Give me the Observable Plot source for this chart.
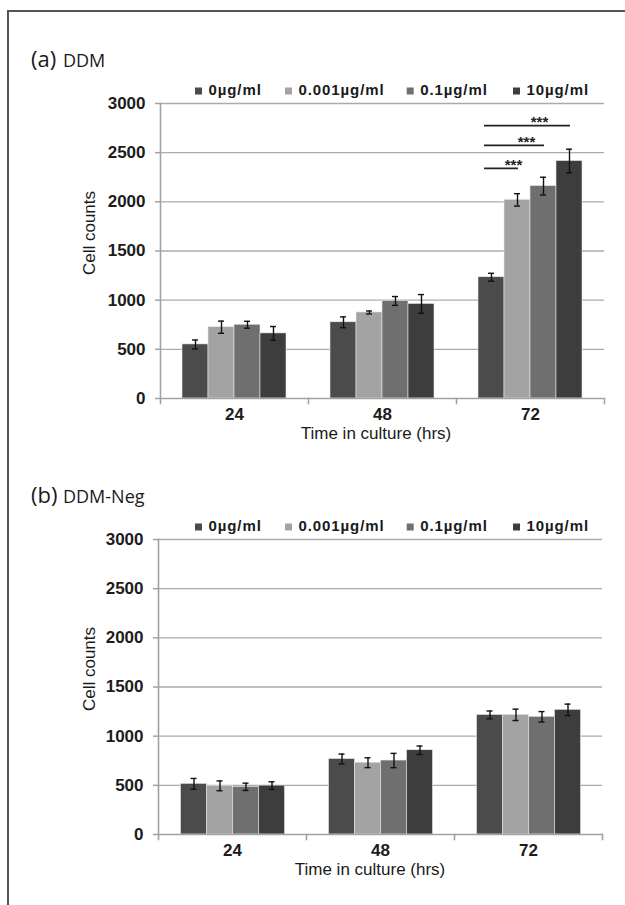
<!DOCTYPE html>
<html><head><meta charset="utf-8">
<script src="https://cdn.jsdelivr.net/npm/d3@7"></script>
<script src="https://cdn.jsdelivr.net/npm/@observablehq/plot@0.6"></script>
<style>
html,body{margin:0;padding:0;background:#fff;}
#root{position:relative;width:625px;height:905px;overflow:hidden;background:#fff;font-family:"Liberation Sans",Arial,sans-serif;}
.panel{position:absolute;left:0;}
#overlay{position:absolute;left:0;top:0;}
.bline{position:absolute;background:#555;}
</style></head><body><div id="root"></div>
<script>
// ---- data ----
const times = ["24", "48", "72"];
const concs = ["0µg/ml", "0.001µg/ml", "0.1µg/ml", "10µg/ml"];
const barColors = ["#4b4b4b", "#a3a3a3", "#6f6f6f", "#3d3d3d"];
const yTicks = [0, 500, 1000, 1500, 2000, 2500, 3000];

// (a) DDM: mean cell counts per time (24, 48, 72 h), one value per concentration
const ddm24 = [550, 725, 750, 662];
const ddm48 = [775, 875, 992, 962];
const ddm72 = [1233, 2020, 2160, 2415];
const ddmErr24 = [45, 62, 35, 70];
const ddmErr48 = [55, 15, 45, 95];
const ddmErr72 = [40, 63, 90, 120];

// significance brackets in (a), at 72 h
const sigTime = ["72", "72", "72"];
const sigFrom = ["0µg/ml", "0µg/ml", "0µg/ml"];
const sigTo = ["10µg/ml", "0.1µg/ml", "0.001µg/ml"];
const sigY = [2775, 2575, 2340];
const sigLabel = ["***", "***", "***"];

// (b) DDM-Neg
const neg24 = [515, 495, 485, 497];
const neg48 = [768, 730, 752, 857];
const neg72 = [1216, 1217, 1197, 1268];
const negErr24 = [55, 50, 37, 39];
const negErr48 = [50, 50, 73, 43];
const negErr72 = [40, 58, 53, 58];

// ---- build ----
const FONT = '"Liberation Sans", Arial, sans-serif';
const root = document.getElementById("root");

function makePanel({top, ml, mr, means, errs, sig}) {
  const rows = times.flatMap((t, i) => concs.map((c, j) => ({time: t, conc: c, mean: means[i][j], err: errs[i][j]})));
  const H = 325, MT = 8, MB = 22;
  const innerH = H - MT - MB;
  const axisColor = "#a2a2a2";
  const marks = [
    Plot.ruleY(yTicks.slice(1), {stroke: "#ababab", strokeWidth: 1.3}),
    Plot.barY(rows, {fx: "time", x: "conc", y: "mean", fill: "conc", stroke: "#e8e8e8", strokeWidth: 0.6}),
    Plot.ruleY([0], {stroke: axisColor, strokeWidth: 1.6}),
    Plot.frame({anchor: "left", facet: "super", stroke: axisColor, strokeWidth: 1.6, insetBottom: -5}),
    Plot.frame({anchor: "right", stroke: axisColor, strokeWidth: 1.6, insetTop: innerH, insetBottom: -5}),
    Plot.ruleX(rows, {fx: "time", x: "conc", y1: d => d.mean - d.err, y2: d => d.mean + d.err, stroke: "#111", strokeWidth: 1.4}),
    Plot.tickY(rows, {fx: "time", x: "conc", y: d => d.mean - d.err, insetLeft: 10, insetRight: 10, stroke: "#111", strokeWidth: 1.4}),
    Plot.tickY(rows, {fx: "time", x: "conc", y: d => d.mean + d.err, insetLeft: 10, insetRight: 10, stroke: "#111", strokeWidth: 1.4}),
    Plot.axisY(yTicks, {tickSize: 5, tickPadding: 10, tickFormat: d => String(d), fontSize: 17, fontWeight: "bold", stroke: axisColor, strokeWidth: 1.5, fill: "#1c1c1c", label: null}),
    Plot.axisFx({anchor: "bottom", tickSize: 0, tickPadding: 9, fontSize: 17, fontWeight: "bold", fill: "#1c1c1c", label: null})
  ];
  if (sig) {
    const insetL = 6, insetR = 12;
    marks.push(
      Plot.ruleY(sig, {fx: "time", x1: "from", x2: "to", y: "y", insetLeft: insetL, insetRight: insetR, stroke: "#222", strokeWidth: 1.7}),
      Plot.text(sig, {
        fx: "time", x: "to", y: "y", text: "label", fontSize: 15, fontWeight: "bold", fill: "#222",
        lineAnchor: "middle", dy: -3,
        render(index, scales, values, dimensions, context, next) {
          const xs = scales.x;
          const bw = typeof xs.bandwidth === "function" ? xs.bandwidth() : (xs.bandwidth || 0);
          const X = Float64Array.from(values.x);
          for (const i of index) {
            const a = xs(sig[i].from) + insetL;
            const b = xs(sig[i].to) + bw - insetR;
            X[i] = (a + b) / 2 - 1;
          }
          return next(index, scales, {...values, x: X}, dimensions, context);
        }
      })
    );
  }
  const svg = Plot.plot({
    width: 625, height: H, marginTop: MT, marginBottom: MB, marginLeft: ml, marginRight: mr,
    style: {fontFamily: FONT, background: "transparent", overflow: "visible"},
    fx: {domain: times, padding: 0},
    x: {domain: concs, paddingInner: 0, paddingOuter: 0.773, axis: null},
    y: {domain: [0, 3000]},
    color: {domain: concs, range: barColors},
    marks
  });
  const wrap = document.createElement("div");
  wrap.className = "panel";
  wrap.style.top = top + "px";
  wrap.appendChild(svg);
  root.appendChild(wrap);
}

const sigRows = sigTime.map((t, i) => ({time: t, from: sigFrom[i], to: sigTo[i], y: sigY[i], label: sigLabel[i]}));

makePanel({top: 95, ml: 159, mr: 21, means: [ddm24, ddm48, ddm72], errs: [ddmErr24, ddmErr48, ddmErr72], sig: sigRows});
makePanel({top: 531, ml: 157.5, mr: 23, means: [neg24, neg48, neg72], errs: [negErr24, negErr48, negErr72], sig: null});

// border lines
const bt = document.createElement("div"); bt.className = "bline";
Object.assign(bt.style, {left: "7px", top: "10px", right: "0", height: "1.6px"});
const bl = document.createElement("div"); bl.className = "bline";
Object.assign(bl.style, {left: "7px", top: "10px", bottom: "0", width: "2px"});
root.appendChild(bt); root.appendChild(bl);

// overlay texts: titles, legends, axis labels
const ov = d3.select(root).append("svg").attr("id", "overlay").attr("width", 625).attr("height", 905)
  .style("pointer-events", "none").style("font-family", FONT);

function panelTexts(dy, letter, name, xTitleX) {
  ov.append("text").attr("x", 31).attr("y", 67 + dy).attr("font-family", '"Open Sans", sans-serif')
    .attr("font-size", 22).attr("fill", "#1a1a1a").text(`(${letter})`);
  ov.append("text").attr("x", 63).attr("y", 67 + dy).attr("font-family", '"Open Sans", sans-serif')
    .attr("font-size", 18).attr("fill", "#1a1a1a").text(name);
  const legX = [195, 285, 406.7, 513];
  concs.forEach((c, i) => {
    ov.append("rect").attr("x", legX[i]).attr("y", 87.5 + dy).attr("width", 7).attr("height", 7).attr("fill", barColors[i]);
    ov.append("text").attr("x", legX[i] + 13.5).attr("y", 94.5 + dy).attr("font-size", 15).attr("font-weight", "bold")
      .attr("letter-spacing", 0.9).attr("fill", "#1a1a1a").text(c);
  });
  ov.append("text").attr("transform", `translate(95,${233 + dy}) rotate(-90)`).attr("text-anchor", "middle")
    .attr("font-size", 17).attr("fill", "#1a1a1a").text("Cell counts");
  ov.append("text").attr("x", xTitleX).attr("y", 439 + dy).attr("text-anchor", "middle")
    .attr("font-size", 17).attr("fill", "#1a1a1a").text("Time in culture (hrs)");
}
panelTexts(0, "a", "DDM", 376);
panelTexts(436, "b", "DDM-Neg", 370);
</script></body></html>
